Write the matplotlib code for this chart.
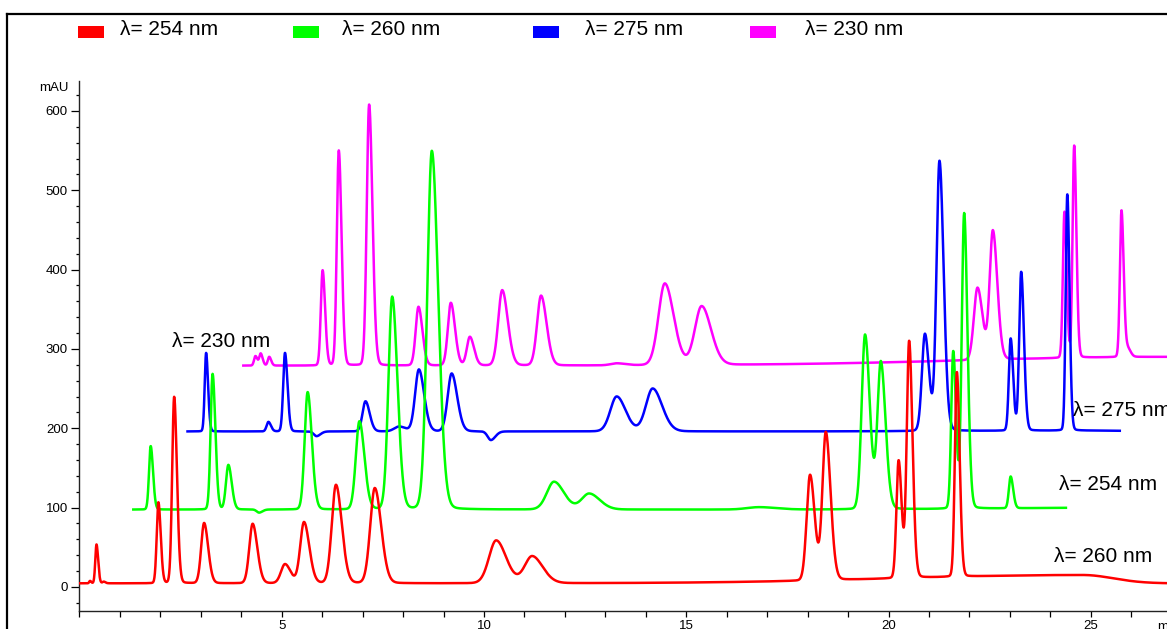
import numpy as np
import matplotlib.pyplot as plt
from matplotlib.patches import Rectangle
from matplotlib.lines import Line2D
from matplotlib.ticker import MultipleLocator, FixedLocator

plt.rcParams['font.family'] = ['Liberation Sans', 'DejaVu Sans']

# --- chromatogram peak tables (retention time min, height mAU, sigma min) ---
labels = ['λ= 254 nm', 'λ= 260 nm', 'λ= 275 nm', 'λ= 230 nm']
colors = ['#ff0000', '#00ff00', '#0000ff', '#ff00ff']

# 254 nm (red)
span_254 = (0.0, 26.9)
base_254 = 4.5
rt_254 = [0.26, 0.42, 0.60, 1.95, 2.34, 3.08, 4.28, 5.08, 5.55, 6.34, 7.30,
          10.30, 11.19, 18.06, 18.45, 20.25, 20.51, 21.69]
h_254 = [3, 49, 2, 102, 235, 76, 75, 24, 77, 124, 120,
         54, 34, 133, 186, 148, 298, 258]
w_254 = [0.02, 0.03, 0.03, 0.042, 0.05, 0.073, 0.084, 0.10, 0.095, 0.105, 0.115,
         0.18, 0.19, 0.085, 0.085, 0.055, 0.06, 0.05]
drift_254 = (24.8, 10.5, 4.5, 0.75)

# 260 nm (green)
span_260 = (1.33, 24.39)
base_260 = 97.5
rt_260 = [1.76, 3.29, 3.68, 4.44, 5.64, 6.92, 7.73, 8.71, 11.73, 12.60,
          16.80, 19.42, 19.81, 21.60, 21.87, 23.02]
h_260 = [80, 171, 56, -4, 148, 111, 268, 452, 35, 20,
         3, 220, 185, 198, 372, 40]
w_260 = [0.042, 0.05, 0.06, 0.06, 0.075, 0.09, 0.095, 0.115, 0.18, 0.19,
         0.3, 0.085, 0.085, 0.05, 0.06, 0.045]
drift_260 = (26.0, 2.5, 3.0, 1.0)

# 275 nm (blue)
span_275 = (2.67, 25.72)
base_275 = 196
rt_275 = [3.13, 4.67, 5.08, 5.86, 7.07, 7.90, 8.39, 9.20, 10.17, 13.28, 14.17,
          20.90, 21.26, 23.02, 23.28, 24.42]
h_275 = [99, 12, 99, -6, 38, 6, 78, 73, -11, 44, 54,
         122, 340, 116, 200, 298]
w_275 = [0.035, 0.045, 0.045, 0.07, 0.075, 0.12, 0.095, 0.10, 0.08, 0.16, 0.17,
         0.075, 0.075, 0.045, 0.05, 0.04]
drift_275 = (25.0, 1.0, 3.0, 1.0)

# 230 nm (magenta)
span_230 = (4.05, 26.9)
base_230 = 279
rt_230 = [4.35, 4.48, 4.69, 6.01, 6.41, 7.16, 8.38, 9.18, 9.65, 10.45, 11.41,
          13.28, 14.47, 15.38, 22.20, 22.58, 24.35, 24.59, 25.76, 25.92]
h_230 = [12, 15, 11, 120, 271, 329, 74, 79, 36, 95, 88,
         2.5, 103, 74, 91, 162, 184, 267, 185, 10]
w_230 = [0.035, 0.035, 0.035, 0.045, 0.05, 0.06, 0.07, 0.075, 0.075, 0.10, 0.10,
         0.15, 0.16, 0.17, 0.09, 0.08, 0.04, 0.04, 0.04, 0.05]
drift_230 = (27.0, 11.0, 5.0, 6.0)

TAIL = 1.4   # right/left width ratio of each peak
ETA = 0.08   # lorentzian share of the peak profile


def chromatogram(span, base, rt, h, w, drift):
    t = np.arange(span[0], span[1], 0.004)
    y = np.full_like(t, float(base))
    for c, a, s in zip(rt, h, w):
        d = (t - c) / np.where(t < c, s, s * TAIL)
        y += a * ((1 - ETA) * np.exp(-0.5 * d ** 2) + ETA / (1 + (1.1774 * d) ** 2))
    c, a, sl, sr = drift
    d = (t - c) / np.where(t < c, sl, sr)
    y += a * np.exp(-0.5 * d ** 2)
    return t, y


traces = [
    chromatogram(span_254, base_254, rt_254, h_254, w_254, drift_254),
    chromatogram(span_260, base_260, rt_260, h_260, w_260, drift_260),
    chromatogram(span_275, base_275, rt_275, h_275, w_275, drift_275),
    chromatogram(span_230, base_230, rt_230, h_230, w_230, drift_230),
]

W, H = 1167, 629
fig = plt.figure(figsize=(W / 100, H / 100), dpi=100)
ax = fig.add_axes([79.5 / W, 18.3 / H, 1 - 79.5 / W, 529.7 / H])

# magenta at the back, red on top
for (t, y), col, z in zip(traces, colors, [4, 3, 2, 1]):
    ax.plot(t, y, color=col, lw=1.8, zorder=z, solid_joinstyle='round')

ax.set_xlim(0, 26.885)
ax.set_ylim(-30, 637.8)
for side in ['top', 'right']:
    ax.spines[side].set_visible(False)
for side in ['left', 'bottom']:
    ax.spines[side].set_linewidth(1.0)
    ax.spines[side].set_color('#222222')

ax.xaxis.set_major_locator(FixedLocator([5, 10, 15, 20, 25]))
ax.xaxis.set_minor_locator(MultipleLocator(1))
ax.yaxis.set_major_locator(FixedLocator([0, 100, 200, 300, 400, 500, 600]))
ax.yaxis.set_minor_locator(MultipleLocator(20))
ax.tick_params(axis='x', which='major', length=4.5, width=0.9, labelsize=9.5, pad=2.5)
ax.tick_params(axis='x', which='minor', length=4.0, width=0.9)
ax.tick_params(axis='y', which='major', length=5.8, width=0.9, labelsize=9.5, pad=2.5)
ax.tick_params(axis='y', which='minor', length=2.3, width=0.9)

ax.annotate('mAU', xy=(0, 629), xycoords=('axes fraction', 'data'),
            xytext=(-11, 0), textcoords='offset pixels',
            ha='right', va='center', fontsize=9.5)
ax.text(26.64, -43, 'min', ha='left', va='top', fontsize=9.5, clip_on=False)

# trace labels inside the plot
ax.text(2.28, 309, labels[3], fontsize=15, ha='left', va='center')
ax.text(24.57, 223, labels[2], fontsize=15, ha='left', va='center', clip_on=False)
ax.text(24.21, 128.6, labels[0], fontsize=15, ha='left', va='center')
ax.text(24.09, 38, labels[1], fontsize=15, ha='left', va='center')

# legend row of colour swatches
sw_x = [78, 293, 533, 750]
txt_x = [120, 342, 585, 805]
for sx, tx, col, lab in zip(sw_x, txt_x, colors, labels):
    fig.add_artist(Rectangle((sx / W, 1 - 38 / H), 25.5 / W, 12 / H,
                             facecolor=col, edgecolor='none'))
    fig.text(tx / W, 1 - 29.5 / H, lab, fontsize=15, ha='left', va='center')

# outer frame
fig.add_artist(Line2D([6.5 / W, 6.5 / W], [0, 1 - 13.5 / H], color='black', lw=1.6))
fig.add_artist(Line2D([6.5 / W, 1.0], [1 - 13.5 / H, 1 - 13.5 / H], color='black', lw=1.6))

fig.savefig('out.png', dpi=100)
